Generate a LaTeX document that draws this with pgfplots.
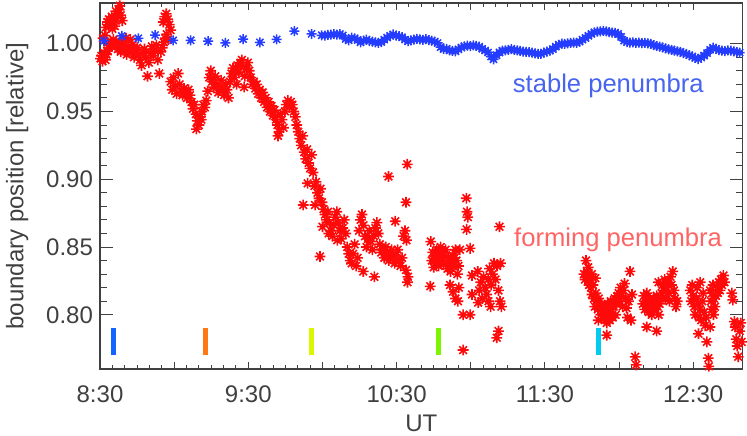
\documentclass[border=0pt]{standalone}
\usepackage{pgfplots}
\pgfplotsset{compat=1.18}
\usepackage{fontspec}
\setmainfont{Liberation Sans}
\definecolor{axgray}{RGB}{64,64,64}
\definecolor{stblue}{RGB}{35,60,255}
\definecolor{stbluetxt}{RGB}{70,100,240}
\definecolor{fmred}{RGB}{255,10,10}
\definecolor{fmredtxt}{RGB}{255,100,100}
\definecolor{barA}{RGB}{20,100,255}
\definecolor{barB}{RGB}{255,120,20}
\definecolor{barC}{RGB}{220,245,0}
\definecolor{barD}{RGB}{125,245,0}
\definecolor{barE}{RGB}{0,204,240}
\pgfdeclareplotmark{idlstar}{%
  \pgfpathmoveto{\pgfqpoint{-\pgfplotmarksize}{0pt}}\pgfpathlineto{\pgfqpoint{\pgfplotmarksize}{0pt}}%
  \pgfpathmoveto{\pgfqpoint{0pt}{-\pgfplotmarksize}}\pgfpathlineto{\pgfqpoint{0pt}{\pgfplotmarksize}}%
  \pgfpathmoveto{\pgfqpoint{-.7071\pgfplotmarksize}{-.7071\pgfplotmarksize}}\pgfpathlineto{\pgfqpoint{.7071\pgfplotmarksize}{.7071\pgfplotmarksize}}%
  \pgfpathmoveto{\pgfqpoint{-.7071\pgfplotmarksize}{.7071\pgfplotmarksize}}\pgfpathlineto{\pgfqpoint{.7071\pgfplotmarksize}{-.7071\pgfplotmarksize}}%
  \pgfusepathqstroke}
\begin{document}
\begin{tikzpicture}
\useasboundingbox (-50pt,-33pt) rectangle (323.5pt,184.5pt);
\begin{axis}[
  at={(0,0)}, anchor=south west,
  scale only axis, width=321.35pt, height=183pt,
  xmin=0, xmax=260, ymin=0.76, ymax=1.03,
  xtick={0,30,...,240},
  xticklabels={8:30,,9:30,,10:30,,11:30,,12:30},
  minor x tick num=5,
  ytick={0.80,0.85,0.90,0.95,1.00},
  yticklabels={0.80,0.85,0.90,0.95,1.00},
  minor y tick num=4,
  tick align=inside,
  axis line style={axgray, line width=0.6pt},
  every tick/.style={axgray, line width=0.5pt},
  xtick style={/pgfplots/major tick length=3.5pt,/pgfplots/minor tick length=2pt},
  ytick style={/pgfplots/major tick length=6.6pt,/pgfplots/minor tick length=3.3pt},
  tick label style={font=\fontsize{12}{14}\selectfont, text=axgray},
  xticklabel style={yshift=-4.8pt},
  xlabel={UT}, ylabel={boundary position [relative]},
  label style={font=\fontsize{12}{14}\selectfont, text=axgray},
  xlabel style={at={(axis description cs:0.5,-0.1475)}, anchor=center},
  ylabel style={at={(axis description cs:-0.1289,0.5)}, anchor=center},
  clip=true,
]
% forming penumbra
\addplot[only marks, mark=idlstar, mark size=2.7pt, fmred, line width=0.8pt] table[x=t,y=v] {
t v
0.2 0.989
0.6 0.991
1.0 0.987
1.4 0.990
1.8 0.993
2.2 0.988
2.6 0.992
3.0 0.995
3.4 0.997
3.8 0.999
1.2 1.004
2.0 1.006
2.4 1.012
3.0 1.016
3.6 1.018
4.2 1.014
4.8 1.020
5.4 1.016
6.0 1.013
6.6 1.019
7.2 1.022
7.8 1.025
8.4 1.021
9.0 1.017
5.0 1.011
6.4 1.024
8.0 1.028
4.2 1.001
4.8 0.998
5.4 1.003
6.0 0.999
6.6 1.002
7.2 0.996
7.8 1.000
8.4 0.994
9.0 0.997
9.6 1.001
10.2 0.995
10.8 0.992
11.4 0.998
12.0 0.996
12.6 0.993
13.2 0.999
13.8 0.990
14.4 0.995
15.0 0.997
15.6 0.992
16.2 0.988
16.8 0.984
17.4 0.993
18.0 0.996
18.6 0.990
19.2 0.976
19.8 0.986
20.4 0.993
21.0 0.998
21.6 0.991
22.2 0.995
22.8 0.999
23.4 0.988
24.0 0.978
24.6 0.994
25.2 0.997
25.8 1.001
26.4 1.004
27.0 1.007
27.6 1.003
10.5 1.004
12.3 1.003
25.6 1.016
26.2 1.020
26.8 1.022
27.4 1.018
28.0 1.014
28.6 1.010
28.6 0.972
29.2 0.966
29.8 0.975
30.4 0.969
31.0 0.963
31.6 0.978
32.2 0.970
32.8 0.965
33.4 0.962
34.0 0.967
34.6 0.963
35.2 0.960
35.8 0.966
36.4 0.962
37.0 0.957
37.6 0.952
38.2 0.955
38.8 0.948
39.4 0.943
40.0 0.940
40.6 0.946
41.2 0.950
41.8 0.955
42.4 0.953
43.0 0.958
39.0 0.937
41.0 0.944
43.6 0.965
44.2 0.975
44.8 0.980
45.4 0.972
46.0 0.968
46.6 0.976
47.2 0.970
47.8 0.964
48.4 0.968
49.0 0.973
49.6 0.966
50.2 0.962
50.8 0.970
51.4 0.966
52.0 0.960
52.6 0.972
53.2 0.978
53.8 0.982
54.4 0.975
55.0 0.980
55.6 0.984
56.2 0.979
56.8 0.986
57.4 0.988
58.0 0.983
58.6 0.976
59.2 0.982
59.8 0.986
60.4 0.980
61.0 0.975
61.6 0.970
55.3 0.970
58.3 0.968
62.2 0.972
62.8 0.967
63.4 0.970
64.0 0.963
64.6 0.966
65.2 0.960
65.8 0.964
66.4 0.957
67.0 0.960
67.6 0.953
68.2 0.957
68.8 0.950
69.4 0.954
70.0 0.947
70.6 0.951
71.2 0.944
71.8 0.940
72.4 0.935
73.0 0.948
73.6 0.944
74.2 0.938
74.8 0.950
75.4 0.955
76.0 0.958
76.6 0.953
77.2 0.957
77.8 0.955
78.4 0.950
79.0 0.946
72.0 0.932
79.6 0.940
80.2 0.935
80.8 0.930
81.4 0.925
82.0 0.932
82.6 0.920
83.2 0.915
83.8 0.922
84.4 0.912
85.0 0.908
85.6 0.918
86.2 0.905
84.0 0.897
86.8 0.895
82.2 0.881
87.4 0.898
88.0 0.890
88.6 0.886
89.2 0.893
89.8 0.883
87.0 0.881
90.4 0.878
91.0 0.874
91.6 0.870
92.2 0.876
92.8 0.868
93.4 0.862
94.0 0.858
94.6 0.866
95.2 0.872
95.8 0.876
96.4 0.868
97.0 0.862
97.6 0.856
98.2 0.864
98.8 0.870
99.4 0.860
90.0 0.865
92.5 0.860
96.0 0.855
89.0 0.843
100.0 0.850
100.6 0.845
101.2 0.840
101.8 0.838
102.4 0.845
103.0 0.852
103.6 0.836
104.2 0.842
104.8 0.862
105.4 0.870
106.0 0.874
106.6 0.866
107.2 0.858
107.8 0.850
108.4 0.856
109.0 0.862
109.6 0.854
110.2 0.848
110.8 0.858
111.4 0.864
112.0 0.868
112.6 0.860
113.2 0.852
113.8 0.846
106.5 0.832
111.0 0.828
114.4 0.848
115.0 0.842
115.6 0.850
116.2 0.846
116.8 0.840
117.4 0.844
118.0 0.848
118.6 0.842
119.2 0.838
119.8 0.844
120.4 0.848
121.0 0.840
121.6 0.836
122.2 0.842
122.8 0.858
123.4 0.862
124.0 0.855
124.6 0.828
123.8 0.833
124.4 0.824
119.4 0.869
116.7 0.902
124.3 0.911
123.8 0.883
133.6 0.821
133.8 0.854
134.2 0.840
134.6 0.846
135.0 0.835
135.4 0.843
135.8 0.838
136.2 0.848
136.6 0.842
137.0 0.836
137.4 0.845
137.8 0.850
138.2 0.840
138.6 0.846
139.0 0.837
139.4 0.843
139.8 0.848
140.2 0.838
140.6 0.834
141.0 0.842
141.4 0.838
141.8 0.832
142.2 0.840
142.6 0.844
143.0 0.836
143.4 0.842
143.8 0.848
144.2 0.840
144.6 0.830
145.0 0.836
141.6 0.822
142.8 0.817
143.8 0.812
144.8 0.810
145.2 0.820
148.2 0.886
148.5 0.876
148.8 0.872
148.3 0.863
145.6 0.848
149.7 0.849
150.5 0.829
150.5 0.815
146.9 0.800
149.7 0.800
146.9 0.774
152.8 0.832
153.4 0.818
154.0 0.824
154.6 0.812
155.2 0.828
155.8 0.820
156.4 0.815
157.0 0.826
157.6 0.834
158.2 0.822
158.8 0.830
159.4 0.838
160.0 0.826
160.6 0.836
161.2 0.818
161.8 0.810
162.4 0.806
153.0 0.809
157.2 0.810
158.0 0.806
161.6 0.865
161.2 0.788
160.5 0.783
162.0 0.838
195.8 0.830
196.2 0.826
196.6 0.840
197.0 0.832
197.4 0.828
197.8 0.822
198.2 0.826
198.6 0.820
199.0 0.815
199.4 0.822
199.8 0.812
200.2 0.806
200.6 0.816
201.0 0.810
201.4 0.804
201.8 0.812
202.2 0.806
202.6 0.800
203.0 0.808
197.5 0.835
199.0 0.830
200.4 0.827
203.4 0.803
203.8 0.797
204.2 0.806
204.6 0.800
205.0 0.794
205.4 0.808
205.8 0.802
206.2 0.796
206.6 0.810
207.0 0.804
207.4 0.798
207.8 0.806
208.2 0.812
208.6 0.800
209.0 0.808
209.4 0.814
205.0 0.785
201.6 0.796
209.8 0.816
210.2 0.810
210.6 0.820
211.0 0.814
211.4 0.806
211.8 0.818
212.2 0.823
212.6 0.812
213.0 0.805
213.4 0.798
213.8 0.810
214.4 0.832
214.8 0.796
215.2 0.815
216.5 0.769
216.9 0.763
219.6 0.808
220.0 0.814
220.4 0.804
220.8 0.810
221.2 0.816
221.6 0.806
222.0 0.802
222.4 0.812
222.8 0.808
223.2 0.800
223.6 0.806
224.0 0.812
224.4 0.804
224.8 0.810
225.2 0.814
225.6 0.806
226.0 0.800
226.4 0.808
226.8 0.812
221.2 0.791
225.2 0.788
225.9 0.824
227.2 0.816
227.6 0.822
228.0 0.818
228.4 0.826
228.8 0.812
229.2 0.820
229.6 0.824
230.0 0.816
230.4 0.810
230.8 0.828
231.2 0.822
231.7 0.832
232.2 0.818
232.6 0.812
233.0 0.806
233.5 0.810
238.8 0.818
239.2 0.810
239.6 0.822
240.0 0.814
240.4 0.806
240.8 0.800
241.2 0.812
241.6 0.820
242.0 0.808
242.4 0.798
242.8 0.804
243.2 0.796
243.6 0.810
244.0 0.816
244.4 0.802
244.8 0.792
245.2 0.798
242.1 0.786
245.5 0.780
242.8 0.824
246.1 0.768
246.3 0.762
246.8 0.791
246.8 0.818
247.2 0.810
247.6 0.816
248.0 0.822
248.4 0.812
248.8 0.806
249.2 0.814
249.6 0.820
250.0 0.816
250.4 0.824
250.8 0.818
251.2 0.826
251.6 0.822
252.2 0.829
252.6 0.824
248.2 0.800
247.4 0.804
255.6 0.816
256.0 0.811
256.6 0.795
257.0 0.791
257.4 0.782
257.8 0.777
258.2 0.769
258.8 0.788
259.2 0.794
259.6 0.780
};
% stable penumbra
\addplot[only marks, mark=idlstar, mark size=2.5pt, stblue, line width=0.75pt] table[x=t,y=v] {
t v
1.6 1.0020
8.8 1.0057
15.5 1.0040
22.3 1.0064
29.6 1.0025
36.7 1.0025
43.7 1.0018
50.7 1.0005
57.9 1.0034
64.7 1.0010
71.5 1.0032
78.6 1.0093
85.6 1.0073
89.7 1.0062
91.0 1.0060
92.2 1.0065
93.4 1.0066
94.6 1.0070
95.8 1.0067
97.0 1.0071
98.2 1.0060
99.4 1.0035
100.6 1.0025
101.8 1.0044
103.0 1.0040
104.2 1.0028
105.4 1.0010
106.6 1.0022
107.8 1.0030
109.0 1.0020
110.2 1.0016
111.4 1.0010
112.6 1.0005
113.8 1.0012
115.0 1.0030
116.2 1.0045
117.4 1.0058
118.6 1.0068
119.8 1.0060
121.0 1.0055
122.2 1.0048
123.4 1.0030
124.6 1.0018
125.8 1.0025
127.0 1.0030
128.2 1.0036
129.4 1.0032
130.6 1.0028
131.8 1.0034
133.0 1.0026
134.2 1.0022
135.4 1.0015
136.6 1.0005
137.8 0.9975
139.0 0.9960
140.2 0.9962
141.4 0.9950
142.6 0.9946
143.8 0.9944
145.0 0.9958
146.2 0.9972
147.4 0.9980
148.6 0.9985
149.8 0.9982
151.0 0.9987
152.2 0.9984
153.4 0.9978
154.6 0.9962
155.8 0.9950
157.0 0.9935
158.2 0.9905
159.2 0.9885
160.4 0.9915
161.6 0.9935
162.8 0.9948
164.0 0.9950
165.2 0.9955
166.4 0.9960
167.6 0.9954
168.8 0.9950
170.0 0.9946
171.2 0.9942
172.4 0.9940
173.6 0.9938
174.8 0.9934
176.0 0.9928
177.2 0.9924
178.4 0.9925
179.6 0.9934
180.8 0.9942
182.0 0.9948
183.2 0.9960
184.4 0.9978
185.6 0.9992
186.8 1.0000
188.0 0.9998
189.2 1.0003
190.4 1.0005
191.6 1.0008
192.8 1.0006
194.0 1.0015
195.2 1.0030
196.4 1.0042
197.6 1.0058
198.8 1.0072
200.0 1.0084
201.2 1.0088
202.4 1.0090
203.6 1.0094
204.8 1.0090
206.0 1.0086
207.2 1.0082
208.4 1.0080
209.6 1.0072
210.8 1.0050
212.0 1.0022
213.2 1.0012
214.4 1.0008
215.6 1.0010
216.8 1.0006
218.0 1.0008
219.2 1.0004
220.4 1.0006
221.6 1.0002
222.8 0.9998
224.0 0.9990
225.2 0.9982
226.4 0.9978
227.6 0.9972
228.8 0.9965
230.0 0.9958
231.2 0.9955
232.4 0.9948
233.6 0.9944
234.8 0.9940
236.0 0.9930
237.2 0.9924
238.4 0.9915
239.6 0.9905
240.8 0.9895
242.0 0.9886
243.2 0.9898
244.4 0.9912
245.6 0.9930
246.8 0.9955
248.0 0.9970
249.2 0.9962
250.4 0.9952
251.6 0.9948
252.8 0.9945
254.0 0.9950
255.2 0.9948
256.4 0.9944
257.6 0.9938
258.8 0.9934
};
% event markers
\addplot[barA, line width=2.5pt] coordinates {(5.66,0.77) (5.66,0.79)};
\addplot[barB, line width=2.5pt] coordinates {(42.7,0.77) (42.7,0.79)};
\addplot[barC, line width=2.5pt] coordinates {(85.6,0.77) (85.6,0.79)};
\addplot[barD, line width=2.5pt] coordinates {(136.8,0.77) (136.8,0.79)};
\addplot[barE, line width=2.5pt] coordinates {(201.7,0.77) (201.7,0.79)};
\node[text=stbluetxt, font=\fontsize{12.8}{15}\selectfont] at (axis cs:205.6,0.9686) {stable penumbra};
\node[text=fmredtxt, font=\fontsize{12.8}{15}\selectfont] at (axis cs:209.6,0.8556) {forming penumbra};
\end{axis}
\end{tikzpicture}
\end{document}
